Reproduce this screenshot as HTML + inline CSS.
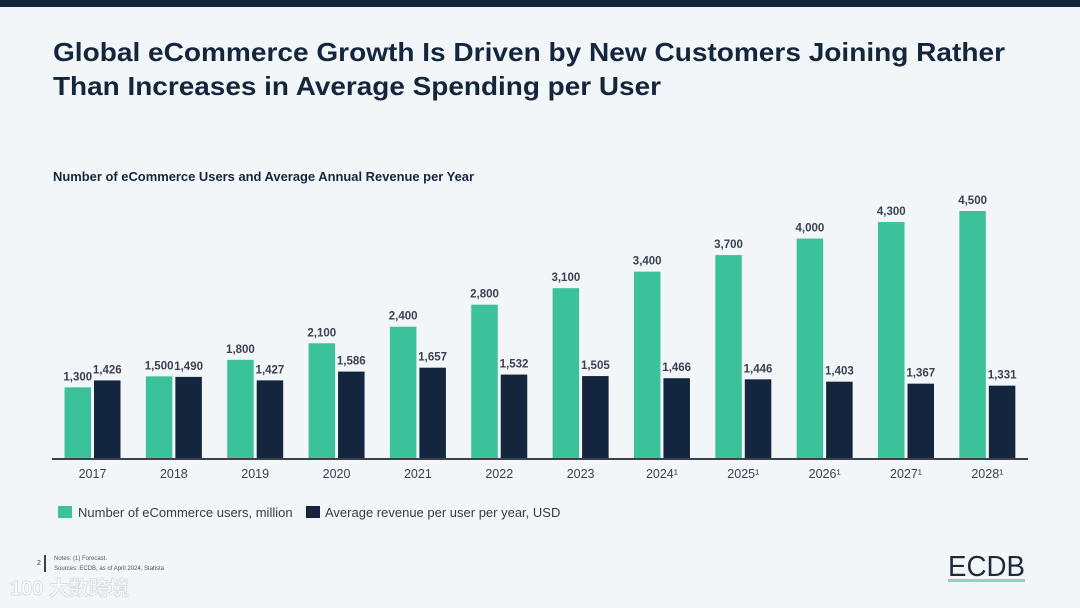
<!DOCTYPE html>
<html><head><meta charset="utf-8"><style>
html,body{margin:0;padding:0;background:#f3f6f9;}
svg{display:block;font-family:"Liberation Sans","Noto Sans CJK SC",sans-serif;}
</style></head><body>
<svg width="1080" height="608" viewBox="0 0 1080 608">
<rect x="0" y="0" width="1080" height="608" fill="#f3f6f9"/>
<rect x="0" y="0" width="1080" height="7" fill="#16263a"/>
<text x="53" y="61" font-size="26" font-weight="bold" fill="#14263c" textLength="952" lengthAdjust="spacingAndGlyphs">Global eCommerce Growth Is Driven by New Customers Joining Rather</text>
<text x="53" y="95" font-size="26" font-weight="bold" fill="#14263c" textLength="608" lengthAdjust="spacingAndGlyphs">Than Increases in Average Spending per User</text>
<text x="53" y="181" font-size="12.5" font-weight="bold" fill="#14263c" textLength="421" lengthAdjust="spacingAndGlyphs">Number of eCommerce Users and Average Annual Revenue per Year</text>
<g id="bars"></g>
<line x1="52" y1="459" x2="1028" y2="459" stroke="#3a4250" stroke-width="2"/>
<rect x="58" y="506" width="14" height="12" fill="#3cc29a"/>
<text x="78" y="517" font-size="13" fill="#333c48">Number of eCommerce users, million</text>
<rect x="306" y="506" width="14" height="12" fill="#13263d"/>
<text x="325" y="517" font-size="13" fill="#333c48">Average revenue per user per year, USD</text>
<text x="37" y="565" font-size="7" fill="#333">2</text>
<rect x="44" y="555" width="2" height="17" fill="#3a4250"/>
<text x="54" y="560" font-size="6" fill="#555">Notes:     (1) Forecast.</text>
<text x="54" y="570" font-size="6" fill="#555">Sources:   ECDB, as of April 2024, Statista</text>
<text x="10" y="595" font-size="20" font-weight="bold" fill="#ffffff" stroke="#d8dde3" stroke-width="1" opacity="0.9">100 大数跨境</text>
<text x="948" y="576" font-size="29" fill="#1e2a38" textLength="77" lengthAdjust="spacingAndGlyphs">ECDB</text>
<rect x="948" y="579" width="77" height="3" fill="#8fd3bf"/>
</svg>
<script>
const years = ["2017","2018","2019","2020","2021","2022","2023","2024","2025","2026","2027","2028"];
const forecast = [false,false,false,false,false,false,false,true,true,true,true,true];
const users = [1300,1500,1800,2100,2400,2800,3100,3400,3700,4000,4300,4500];
const revenue = [1426,1490,1427,1586,1657,1532,1505,1466,1446,1403,1367,1331];
const usersLabels = ["1,300","1,500","1,800","2,100","2,400","2,800","3,100","3,400","3,700","4,000","4,300","4,500"];
const revenueLabels = ["1,426","1,490","1,427","1,586","1,657","1,532","1,505","1,466","1,446","1,403","1,367","1,331"];
const NS="http://www.w3.org/2000/svg";
const g=document.getElementById('bars');
const base=459, k=248/4500, x0=92.5, pitch=81.35, bw=26.5;
const xc=i=>x0+i*pitch;
const y=v=>base-v*k;
function mk(t,a){const e=document.createElementNS(NS,t);for(const n in a)e.setAttribute(n,a[n]);g.appendChild(e);return e;}
years.forEach((yr,i)=>{
  const c=xc(i);
  const r1=mk('rect',{x:c-1.5-bw,y:y(users[i]),width:bw,height:users[i]*k,fill:'#3cc29a'});
  
  
  const r2=mk('rect',{x:c+1.5,y:y(revenue[i]),width:bw,height:revenue[i]*k,fill:'#13263d'});
  
  
  const t1=mk('text',{x:c-1.5-bw/2,y:y(users[i])-7,'font-size':11.5,'font-weight':'bold',fill:'#3a4250','text-anchor':'middle'});
  t1.textContent=usersLabels[i];
  
  
  const t2=mk('text',{x:c+1.5+bw/2,y:y(revenue[i])-7,'font-size':11.5,'font-weight':'bold',fill:'#3a4250','text-anchor':'middle'});
  t2.textContent=revenueLabels[i];
  
  
  const tl=mk('text',{x:c,y:478,'font-size':12.5,fill:'#3a4250','text-anchor':'middle'});
  tl.textContent=yr+(forecast[i]?'¹':'');
  
  
});
</script>
</body></html>
